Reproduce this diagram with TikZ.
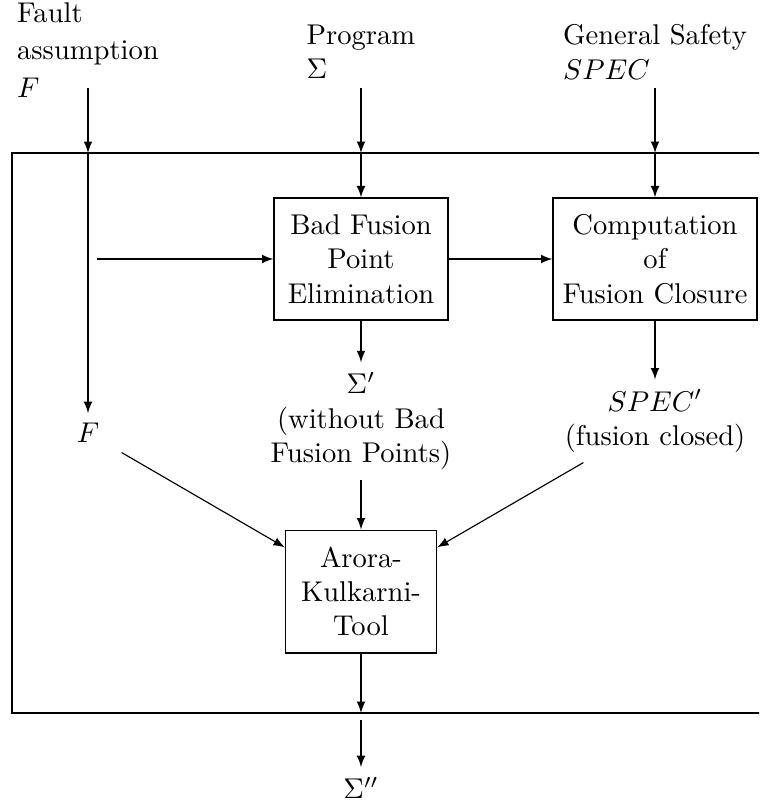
\documentclass[tikz,border=0pt]{standalone}
\usetikzlibrary{arrows}
\begin{document}
\begin{tikzpicture}[x=0.35pt,y=-0.35pt,>=latex,
  box/.style={draw,align=center,minimum height=42.7pt},
  txt/.style={align=center}]
 	\useasboundingbox (0,0) rectangle (759,805);
 	\clip (0,0) rectangle (759,805);
 	\draw (12,153) rectangle (790,713);
 	% inputs
 	\node[align=left] (fault) at (88,50) {Fault\\[1pt]assumption\\[1pt]$F$};
 	\node[align=left] (prog) at (361,52) {Program\\$\Sigma$};
 	\node[align=left] (gspec) at (655,52) {General Safety\\$SPEC$};
 	\coordinate (fin) at (88,88);  \coordinate (fb) at (88,153);
 	\coordinate (pin) at (361,88); \coordinate (pb) at (361,153);
 	\coordinate (sin) at (655,88); \coordinate (sb) at (655,153);
 	% boxes
 	\node[box,minimum width=60.9pt] (bfpe) at (361,259) {Bad Fusion\\Point\\Elimination};
 	\node[box,minimum width=71.4pt] (comp) at (655,259) {Computation\\of\\Fusion Closure};
 	\node[box,minimum width=52.9pt,minimum height=43pt] (arora) at (361,591.5) {Arora-\\Kulkarni-\\Tool};
 	\node (fnode) at (88,433) {$F$};
 	\node[txt] (sigp) at (361,421) {$\Sigma'$\\(without Bad\\Fusion Points)};
 	\node[txt] (specp) at (655,421) {$SPEC'$\\(fusion closed)};
 	\node (sigpp) at (361,788) {$\Sigma''$};
 	\coordinate (fh) at (97,259);
 	\coordinate (ab) at (361,713); \coordinate (aout) at (361,720);
 	% connectors
 	\draw[->] (fin) -- (fb);
 	\draw[->] (fb) -- (fnode);
 	\draw[->] (pin) -- (pb);
 	\draw[->] (pb) -- (bfpe);
 	\draw[->] (sin) -- (sb);
 	\draw[->] (sb) -- (comp);
 	\draw[->] (fh) -- (bfpe);
 	\draw[->] (bfpe) -- (comp);
 	\draw[->] (bfpe) -- (sigp);
 	\draw[->] (comp) -- (specp);
 	\draw[->,shorten <=5pt] (fnode) -- (arora);
 	\draw[->] (sigp) -- (arora);
 	\draw[->] (specp) -- (arora);
 	\draw[->] (arora) -- (ab);
 	\draw[->] (aout) -- (sigpp);
\end{tikzpicture}
\end{document}
